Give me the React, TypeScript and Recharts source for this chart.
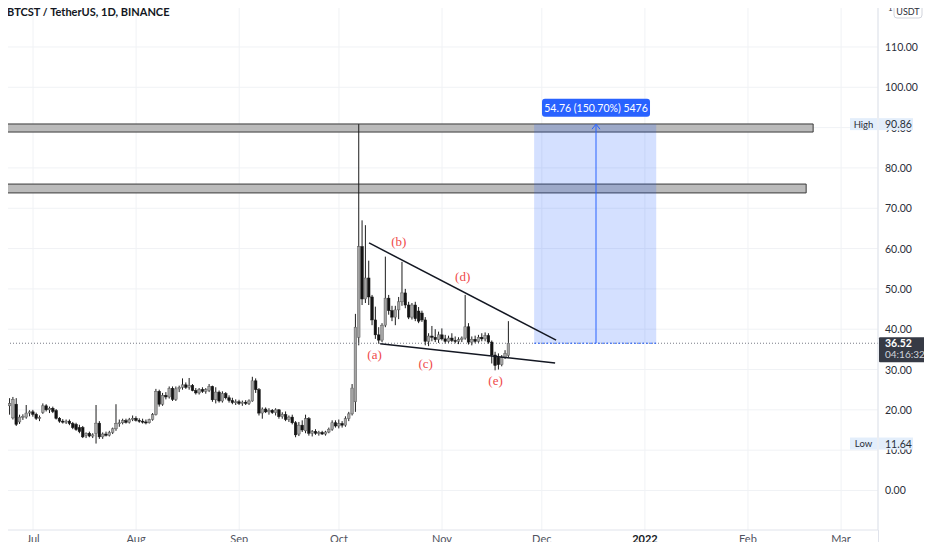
import React from "react";
import {
  ComposedChart,
  Bar,
  XAxis,
  YAxis,
  CartesianGrid,
  ReferenceArea,
  ReferenceLine,
  ReferenceDot,
} from "recharts";

// daily candles, BTCST/USDT, index 0 = Jun 21 2021
const opens = [
  19.6, 17.9, 18.3, 21.0, 18.0, 21.4, 17.0, 18.2, 18.2, 19.2, 19.5, 18.9, 17.9, 19.4, 21.0, 20.0, 20.4, 19.8, 17.9, 17.2,
  17.0, 17.2, 16.6, 16.4, 15.6, 15.6, 13.6, 14.2, 13.5, 14.2, 16.7, 13.3, 14.0, 13.7, 14.4, 15.3, 16.6, 16.8, 17.3, 16.9,
  17.6, 17.9, 17.4, 17.2, 17.0, 16.8, 17.6, 18.8, 24.6, 21.4, 23.6, 23.2, 25.3, 22.6, 25.2, 25.6, 26.2, 25.6, 26.0, 24.8,
  24.2, 25.0, 24.6, 24.8, 25.8, 22.5, 24.4, 22.2, 24.0, 23.0, 22.3, 21.8, 22.0, 21.6, 21.9, 21.6, 22.2, 27.2, 25.0, 19.2,
  20.2, 19.5, 19.9, 19.3, 20.0, 18.3, 18.8, 17.6, 18.2, 16.8, 14.0, 16.2, 14.8, 17.8, 14.2, 14.6, 14.2, 14.4, 14.0, 14.5,
  15.2, 16.8, 16.0, 16.6, 16.2, 17.8, 19.0, 22.0, 38.0, 60.5, 47.5, 52.7, 48.0, 42.3, 38.6, 37.3, 41.0, 47.7, 44.6, 43.0,
  44.8, 46.8, 49.0, 46.0, 43.0, 46.0, 44.5, 44.0, 42.3, 37.0, 38.3, 38.0, 37.4, 38.6, 37.6, 37.0, 37.8, 37.2, 37.0, 37.4,
  37.8, 40.6, 36.8, 37.5, 37.0, 38.0, 37.6, 38.4, 36.8, 33.6, 33.0, 31.2, 33.0, 33.5,
];
const highs = [
  24.1, 19.8, 21.6, 22.9, 23.2, 22.9, 18.8, 18.9, 21.2, 19.9, 20.0, 19.3, 18.6, 21.6, 21.4, 20.8, 20.8, 20.2, 18.2, 17.7,
  17.6, 17.6, 17.0, 16.8, 16.3, 16.0, 14.4, 14.6, 14.2, 21.2, 17.2, 14.4, 14.6, 14.8, 15.6, 21.4, 17.6, 17.8, 17.8, 18.0,
  18.6, 18.4, 17.9, 17.8, 17.6, 17.8, 19.2, 25.2, 25.0, 24.2, 24.4, 25.8, 25.8, 25.8, 26.0, 27.8, 26.8, 27.9, 26.4, 25.4,
  25.4, 25.6, 25.4, 26.4, 26.0, 25.6, 24.8, 24.6, 24.4, 23.6, 23.0, 22.6, 22.5, 22.3, 22.4, 22.6, 28.2, 27.8, 25.4, 20.6,
  20.6, 20.4, 20.2, 20.4, 20.2, 19.4, 19.6, 18.6, 18.8, 17.2, 17.0, 17.4, 18.8, 18.2, 15.0, 15.2, 14.8, 14.8, 14.8, 15.6,
  17.4, 17.4, 17.6, 17.2, 18.4, 19.5, 26.4, 43.8, 90.86, 67.0, 65.8, 57.0, 48.5, 45.6, 40.5, 41.5, 58.0, 48.5, 45.8, 45.8,
  48.0, 56.7, 50.0, 46.8, 46.5, 46.8, 45.5, 44.6, 43.0, 39.0, 40.8, 40.0, 39.4, 40.2, 38.6, 38.4, 39.0, 38.2, 38.0, 38.2,
  48.5, 41.5, 38.2, 38.4, 38.6, 39.0, 39.2, 39.0, 37.2, 34.4, 34.0, 33.6, 34.8, 42.0,
];
const lows = [
  15.4, 17.0, 17.6, 18.8, 17.6, 16.0, 16.5, 17.5, 17.8, 18.4, 18.3, 17.5, 17.2, 19.0, 19.6, 19.2, 19.2, 17.6, 16.8, 16.6,
  16.5, 16.2, 15.2, 14.8, 14.2, 13.0, 13.0, 13.2, 13.0, 11.64, 12.8, 12.8, 13.4, 13.4, 14.0, 14.8, 15.8, 16.4, 16.6, 16.6,
  17.2, 17.1, 16.8, 16.6, 16.4, 16.6, 17.3, 18.6, 20.8, 21.0, 22.6, 22.8, 22.2, 22.2, 24.4, 25.0, 25.2, 25.0, 24.6, 23.8,
  23.8, 24.2, 24.0, 24.4, 22.0, 21.6, 21.8, 21.8, 22.6, 21.8, 21.4, 21.2, 21.2, 21.0, 21.2, 21.2, 22.0, 24.2, 18.6, 17.8,
  19.2, 18.8, 19.0, 18.6, 17.8, 17.8, 17.2, 17.0, 16.4, 13.2, 13.5, 14.5, 14.2, 13.6, 13.4, 13.8, 13.6, 13.8, 13.6, 14.2,
  14.8, 15.6, 15.4, 15.6, 15.8, 17.2, 18.6, 19.5, 36.0, 46.0, 46.5, 46.0, 41.0, 37.6, 36.4, 36.8, 40.5, 43.6, 42.0, 41.0,
  42.5, 45.8, 45.2, 42.5, 42.4, 42.0, 41.5, 41.8, 36.0, 35.8, 37.0, 36.8, 36.6, 37.2, 36.4, 36.6, 36.8, 36.5, 36.3, 36.8,
  37.4, 36.2, 36.0, 36.5, 36.6, 37.0, 37.0, 36.4, 31.5, 29.8, 30.0, 30.8, 32.6, 33.0,
];
const closes = [
  17.5, 19.6, 21.2, 21.6, 22.6, 16.4, 18.2, 18.4, 19.2, 19.5, 18.9, 17.9, 18.1, 21.0, 20.0, 20.4, 19.6, 17.9, 17.2, 17.0,
  17.2, 16.6, 15.6, 15.1, 14.6, 13.3, 14.2, 13.5, 13.8, 16.7, 13.3, 14.0, 13.7, 14.4, 15.3, 16.6, 16.8, 17.3, 16.9, 17.6,
  17.9, 17.4, 17.2, 17.0, 16.8, 17.6, 18.8, 24.6, 21.4, 23.6, 23.2, 25.3, 22.6, 25.2, 25.6, 26.2, 25.6, 26.0, 24.8, 24.2,
  25.0, 24.6, 25.0, 25.8, 22.5, 24.4, 22.2, 24.0, 23.0, 22.3, 21.8, 22.0, 21.6, 21.9, 21.6, 22.2, 27.2, 25.0, 19.2, 20.2,
  19.5, 19.9, 19.3, 20.0, 18.3, 18.9, 17.6, 18.2, 16.8, 13.8, 16.2, 15.0, 17.8, 14.2, 14.6, 14.2, 14.4, 14.0, 14.5, 15.2,
  16.8, 16.0, 16.6, 16.2, 17.8, 19.0, 25.4, 40.5, 60.5, 47.5, 52.7, 48.0, 42.3, 38.6, 37.3, 41.0, 47.7, 44.6, 43.0, 44.8,
  46.8, 49.0, 46.0, 43.0, 46.0, 42.6, 42.0, 42.3, 37.0, 38.3, 38.0, 37.4, 38.6, 37.6, 37.0, 37.8, 37.2, 37.0, 37.4, 37.8,
  40.6, 36.8, 37.5, 37.0, 38.0, 37.6, 38.4, 36.8, 33.6, 31.0, 31.2, 33.0, 34.0, 36.52,
];

const monthTicks = [10, 41, 72, 102, 133, 163, 194, 225, 253];
const monthLabels = ["Jul", "Aug", "Sep", "Oct", "Nov", "Dec", "2022", "Feb", "Mar"];
const priceTicks = [0, 10, 20, 30, 40, 50, 60, 70, 80, 90, 100, 110];

// drawings
const zones = [
  { from: 88.9, to: 90.9, end: 244.6 },
  { from: 73.8, to: 76.0, end: 242.5 },
];
const wedgeUpper = [{ x: 111.05, y: 61.4 }, { x: 167.3, y: 37.3 }];
const wedgeLower = [{ x: 114.4, y: 36.4 }, { x: 167.0, y: 31.6 }];
const waveLabels = [
  { t: "(a)", x: 112.7, y: 33.6 },
  { t: "(b)", x: 120, y: 61.6 },
  { t: "(c)", x: 128.1, y: 31.4 },
  { t: "(d)", x: 139.2, y: 52.9 },
  { t: "(e)", x: 149.1, y: 27.2 },
];
const lastPrice = 36.52;
const target = 90.86;
const lowPrice = 11.64;
const posStart = 160.7;
const posEnd = 197.4;
const posMid = 179.3;
const badgeTicks = [target, lowPrice, lastPrice];

const XMIN = 0.07;
const XMAX = 264.1;

const candles = opens.map((o, i) => ({ i, o, h: highs[i], l: lows[i], c: closes[i] }));

const font = "Lato, 'Open Sans', sans-serif";

const Candle = (props: any) => {
  const { x, y, width, height, payload } = props;
  if (!payload || height == null) return null;
  const { o, h, l, c } = payload;
  const up = c >= o;
  const k = h > l ? height / (h - l) : 0;
  const cx = x + width / 2;
  const top = y + (h - Math.max(o, c)) * k;
  const bh = Math.max(1, Math.abs(o - c) * k);
  return (
    <g>
      <line x1={cx} x2={cx} y1={y} y2={y + height} stroke="#1c1c1c" strokeWidth={1} />
      <rect
        x={cx - 1.3}
        y={top}
        width={2.6}
        height={bh}
        fill={up ? "#a4a4a4" : "#141414"}
        stroke={up ? "#5a5a5a" : "#141414"}
        strokeWidth={0.5}
      />
    </g>
  );
};

const MonthTick = (props: any) => {
  const { x, y, payload } = props;
  const label = monthLabels[monthTicks.indexOf(payload.value)];
  const bold = label === "2022";
  return (
    <text
      x={x}
      y={y + 5}
      textAnchor="middle"
      fontSize={11}
      fontFamily={font}
      fontWeight={bold ? 700 : 400}
      fill={bold ? "#131722" : "#50535e"}
    >
      {label}
    </text>
  );
};

// regular price labels, plus the High / Low / last-price badges drawn on top
const PriceTick = (props: any) => {
  const { x, y, payload } = props;
  const v = payload.value;
  if (v === target || v === lowPrice) {
    const tag = v === target ? "High" : "Low";
    return (
      <g>
        <rect x={x - 36} y={y - 6} width={27} height={12} fill="#e3eefb" />
        <text x={x - 22.5} y={y + 3.5} textAnchor="middle" fontSize={9.5} fontFamily={font} fill="#2a2e39">
          {tag}
        </text>
        <rect x={x - 7} y={y - 6} width={34} height={12} fill="#e3eefb" />
        <text x={x - 1} y={y + 4} fontSize={10.5} fontFamily={font} fill="#2a2e39">
          {v.toFixed(2)}
        </text>
      </g>
    );
  }
  if (v === lastPrice) {
    return (
      <g>
        <rect x={x - 7} y={y - 6} width={47} height={25} rx={1} fill="#363a45" />
        <text x={x - 1} y={y + 4} fontSize={10.5} fontWeight={700} fontFamily={font} fill="#ffffff">
          {v.toFixed(2)}
        </text>
        <text x={x - 1} y={y + 15} fontSize={10} fontFamily={font} fill="#d1d4dc">
          04:16:32
        </text>
      </g>
    );
  }
  return (
    <text x={x - 1} y={y + 4} fontSize={10.5} fontFamily={font} fill="#2a2e39">
      {v.toFixed(2)}
    </text>
  );
};

const Arrow = (props: any) => {
  const { x1, y1, x2, y2 } = props;
  const tip = Math.min(y1, y2);
  return (
    <g>
      <line x1={x1} y1={y1} x2={x2} y2={y2} stroke="#2962ff" strokeWidth={1} />
      <path d={`M${x1 - 4},${tip + 5} L${x1},${tip} L${x1 + 4},${tip + 5}`} fill="none" stroke="#2962ff" strokeWidth={1} />
    </g>
  );
};

const TargetLabel = (props: any) => {
  const { cx, cy } = props;
  return (
    <g>
      <rect x={cx - 54} y={cy - 9} width={108} height={18} rx={3} fill="#2962ff" />
      <text x={cx} y={cy + 4} textAnchor="middle" fontSize={10.5} fontFamily={font} fill="#ffffff">
        54.76 (150.70%) 5476
      </text>
    </g>
  );
};

const CurrencyBadge = (props: any) => {
  const { cx, cy } = props;
  return (
    <g>
      <text x={cx + 10} y={cy + 11} fontSize={8} fontFamily={font} fill="#2a2e39">
        1
      </text>
      <rect x={cx + 16} y={cy + 5} width={28} height={13} rx={3} fill="#ffffff" stroke="#d1d4dc" />
      <text x={cx + 30} y={cy + 15} textAnchor="middle" fontSize={9} fontFamily={font} fill="#2a2e39">
        USDT
      </text>
    </g>
  );
};

const WaveLabel = (t: string) => (props: any) => (
  <text
    x={props.cx}
    y={props.cy + 4}
    textAnchor="middle"
    fontSize={13}
    fontFamily="'Liberation Serif', serif"
    fill="#ef4a4a"
  >
    {t}
  </text>
);

export default function App() {
  return (
    <div style={{ position: "relative", width: 932, height: 550, margin: -8, background: "#fff" }}>
      <ComposedChart width={932} height={550} data={candles} margin={{ top: 0, right: 0, bottom: 0, left: 0 }}>
        <CartesianGrid stroke="#f0f2f5" horizontalValues={priceTicks} />
        <XAxis
          dataKey="i"
          type="number"
          domain={[XMIN, XMAX]}
          allowDataOverflow
          ticks={monthTicks}
          tick={<MonthTick />}
          tickLine={false}
          axisLine={{ stroke: "#e0e3eb" }}
          height={20}
        />
        <YAxis
          orientation="right"
          type="number"
          domain={[-9.8, 121.65]}
          allowDataOverflow
          ticks={[...priceTicks, ...badgeTicks]}
          interval={0}
          tick={<PriceTick />}
          tickLine={false}
          axisLine={{ stroke: "#e0e3eb" }}
          width={54}
        />
        {zones.map((z, k) => (
          <ReferenceArea
            key={k}
            x1={XMIN}
            x2={z.end}
            y1={z.from}
            y2={z.to}
            fill="#b4b4b4"
            fillOpacity={0.9}
            stroke="#3a3a3a"
            strokeWidth={1}
            ifOverflow="visible"
          />
        ))}
        <ReferenceArea
          x1={posStart}
          x2={posEnd}
          y1={lastPrice}
          y2={target}
          fill="#2962ff"
          fillOpacity={0.2}
          stroke="none"
        />
        <ReferenceLine y={lastPrice} stroke="#787b86" strokeDasharray="1 2" />
        <ReferenceLine
          segment={[{ x: posStart, y: lastPrice }, { x: posEnd, y: lastPrice }]}
          stroke="#2962ff"
          strokeDasharray="2 2"
        />
        <Bar
          dataKey={(d: any) => [d.l, d.h]}
          barSize={3}
          shape={<Candle />}
          isAnimationActive={false}
        />
        <ReferenceLine segment={wedgeUpper} stroke="#131722" strokeWidth={1.5} />
        <ReferenceLine segment={wedgeLower} stroke="#131722" strokeWidth={1.5} />
        <ReferenceLine
          segment={[{ x: posMid, y: lastPrice }, { x: posMid, y: target }]}
          shape={<Arrow />}
        />
        <ReferenceDot x={posMid} y={94.9} r={0} ifOverflow="visible" shape={<TargetLabel />} />
        {waveLabels.map((w) => (
          <ReferenceDot key={w.t} x={w.x} y={w.y} r={0} ifOverflow="visible" shape={WaveLabel(w.t)} />
        ))}
        <ReferenceDot x={XMAX} y={121.65} r={0} ifOverflow="visible" shape={<CurrencyBadge />} />
      </ComposedChart>
      <div
        style={{
          position: "absolute",
          left: 7,
          top: 5,
          fontFamily: font,
          fontWeight: 700,
          fontSize: 11,
          color: "#131722",
        }}
      >
        BTCST / TetherUS, 1D, BINANCE
      </div>
      <div style={{ position: "absolute", left: 878, top: 530, width: 1, height: 20, background: "#e0e3eb" }} />
    </div>
  );
}
